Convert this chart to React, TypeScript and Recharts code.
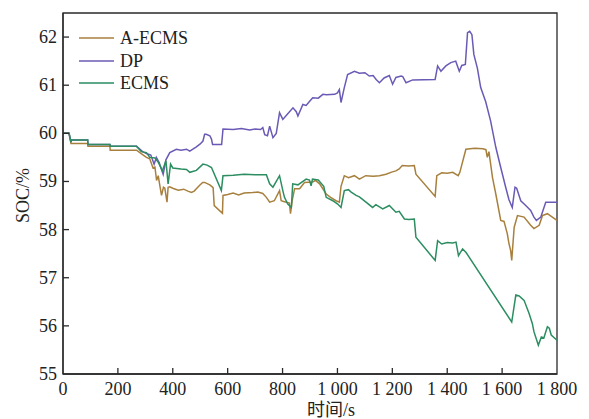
import { LineChart, Line, XAxis, YAxis, ReferenceArea } from 'recharts'

// time (s), SOC (%)
const aecmsPoints: [number, number][] = [
  [0, 60.0], [22, 60.0], [29, 59.79], [90, 59.79], [91, 59.73], [171, 59.73], [172, 59.65], [268, 59.65],
  [285, 59.58], [304, 59.5], [316, 59.47], [328, 59.28], [335, 59.3], [341, 59.02], [347, 59.12], [353, 58.91],
  [359, 58.71], [366, 58.88], [371, 58.86], [379, 58.57], [383, 58.88], [389, 58.89], [400, 58.86], [420, 58.82],
  [440, 58.84], [455, 58.8], [468, 58.77], [478, 58.8], [498, 58.92], [509, 58.98], [516, 58.98], [535, 58.93],
  [547, 58.87], [551, 58.5], [581, 58.34], [583, 58.71], [600, 58.73], [620, 58.76], [640, 58.72], [660, 58.76],
  [691, 58.77], [710, 58.78], [728, 58.75], [741, 58.67], [753, 58.57], [770, 58.6], [789, 58.81], [795, 58.6],
  [807, 58.58], [825, 58.55], [829, 58.33], [835, 58.6], [844, 58.85], [862, 58.85], [880, 58.98], [909, 58.99],
  [920, 59.02], [935, 58.95], [959, 58.74], [975, 58.67], [995, 58.6], [1007, 58.57], [1013, 58.9], [1025, 59.12],
  [1040, 59.08], [1062, 59.12], [1080, 59.05], [1103, 59.12], [1130, 59.11], [1153, 59.12], [1177, 59.15],
  [1200, 59.2], [1213, 59.22], [1225, 59.26], [1236, 59.33], [1260, 59.32], [1280, 59.33], [1286, 59.15],
  [1356, 58.69], [1362, 59.12], [1380, 59.18], [1400, 59.17], [1420, 59.19], [1440, 59.12], [1446, 59.19],
  [1468, 59.67], [1500, 59.69], [1530, 59.68], [1541, 59.66], [1546, 59.5], [1552, 59.62], [1565, 59.08],
  [1577, 58.74], [1595, 58.19], [1607, 58.17], [1619, 57.91], [1625, 57.71], [1631, 57.57], [1635, 57.36],
  [1644, 58.05], [1656, 58.29], [1680, 58.26], [1704, 58.09], [1716, 58.02], [1735, 58.09], [1747, 58.29],
  [1765, 58.33], [1783, 58.26], [1800, 58.19],
]

const dpPoints: [number, number][] = [
  [0, 60.0], [22, 60.0], [29, 59.82], [31, 59.86], [90, 59.86], [91, 59.77], [171, 59.77], [172, 59.73],
  [268, 59.73], [290, 59.62], [304, 59.58], [320, 59.55], [332, 59.36], [340, 59.5], [350, 59.4], [365, 59.15],
  [375, 59.45], [389, 59.6], [413, 59.67], [430, 59.65], [450, 59.67], [462, 59.63], [486, 59.72], [500, 59.78],
  [510, 59.84], [516, 59.98], [522, 59.98], [535, 59.95], [541, 59.88], [545, 59.77], [578, 59.77], [583, 60.09],
  [620, 60.08], [650, 60.1], [680, 60.07], [700, 60.09], [720, 60.08], [728, 60.12], [735, 59.97], [745, 59.95],
  [753, 60.15], [765, 59.91], [777, 60.0], [789, 60.43], [801, 60.29], [815, 60.38], [838, 60.53], [850, 60.45],
  [856, 60.36], [874, 60.6], [886, 60.58], [898, 60.66], [910, 60.74], [930, 60.73], [947, 60.81], [960, 60.8],
  [990, 60.81], [1000, 60.84], [1007, 60.91], [1013, 60.64], [1025, 60.95], [1037, 61.22], [1062, 61.29],
  [1080, 61.25], [1100, 61.26], [1116, 61.19], [1130, 61.2], [1141, 61.12], [1153, 61.05], [1170, 61.15],
  [1189, 61.2], [1201, 61.02], [1213, 61.16], [1232, 61.19], [1238, 61.18], [1250, 61.05], [1274, 61.11],
  [1356, 61.12], [1365, 61.4], [1377, 61.29], [1395, 61.4], [1413, 61.47], [1431, 61.5], [1444, 61.29],
  [1453, 61.41], [1466, 61.43], [1474, 62.09], [1482, 62.12], [1490, 62.05], [1497, 61.64], [1510, 61.35],
  [1522, 60.95], [1540, 60.66], [1558, 60.26], [1577, 59.71], [1595, 59.29], [1613, 58.88], [1625, 58.62],
  [1637, 58.46], [1647, 58.88], [1653, 58.86], [1668, 58.6], [1686, 58.5], [1704, 58.4], [1716, 58.26],
  [1725, 58.19], [1741, 58.26], [1759, 58.57], [1800, 58.57],
]

const ecmsPoints: [number, number][] = [
  [0, 60.0], [22, 60.0], [29, 59.82], [31, 59.86], [90, 59.86], [91, 59.77], [171, 59.77], [172, 59.73],
  [268, 59.73], [285, 59.62], [304, 59.6], [316, 59.5], [335, 59.49], [347, 59.4], [362, 59.22], [375, 59.43],
  [383, 58.95], [392, 59.36], [400, 59.28], [430, 59.26], [450, 59.25], [462, 59.19], [486, 59.23], [510, 59.36],
  [525, 59.34], [541, 59.29], [577, 58.81], [583, 59.12], [620, 59.13], [660, 59.15], [700, 59.14], [741, 59.14],
  [753, 58.95], [765, 58.88], [789, 59.12], [801, 58.81], [807, 58.67], [819, 58.53], [832, 58.46], [837, 58.95],
  [856, 58.93], [886, 59.05], [898, 59.03], [904, 58.91], [909, 59.05], [930, 59.03], [950, 58.9], [959, 58.67],
  [983, 58.6], [1001, 58.53], [1013, 58.46], [1025, 58.81], [1040, 58.83], [1050, 58.78], [1068, 58.71],
  [1080, 58.68], [1104, 58.57], [1128, 58.46], [1140, 58.52], [1165, 58.43], [1189, 58.5], [1213, 58.36],
  [1225, 58.38], [1244, 58.22], [1260, 58.21], [1280, 58.22], [1286, 57.84], [1356, 57.36], [1365, 57.77],
  [1380, 57.7], [1400, 57.73], [1420, 57.72], [1432, 57.74], [1441, 57.46], [1456, 57.6], [1468, 57.53],
  [1635, 56.08], [1650, 56.64], [1662, 56.62], [1680, 56.53], [1698, 56.26], [1710, 56.05], [1716, 55.88],
  [1732, 55.6], [1743, 55.77], [1752, 55.75], [1765, 55.98], [1772, 55.95], [1779, 55.81], [1800, 55.7],
]

const xTicks = [0, 200, 400, 600, 800, 1000, 1200, 1400, 1600, 1800]
const yTicks = [55, 56, 57, 58, 59, 60, 61, 62]

const series = [
  { name: 'A-ECMS', color: '#a8803e', points: aecmsPoints },
  { name: 'DP', color: '#6b5ab5', points: dpPoints },
  { name: 'ECMS', color: '#2b8d60', points: ecmsPoints },
]

const FONT = "'Liberation Serif', 'Times New Roman', serif"
const AXIS = '#2a2a2a'

const toRows = (pts: [number, number][]) => pts.map(([t, soc]) => ({ t, soc }))

const fmtX = (v: number) => (v >= 1000 ? `${Math.floor(v / 1000)} ${String(v % 1000).padStart(3, '0')}` : String(v))

function XTick({ x, y, payload }: any) {
  return (
    <g>
      {payload.value > 0 && payload.value < 1800 && <line x1={x} y1={y} x2={x} y2={y - 6} stroke={AXIS} strokeWidth={1.3} />}
      <text x={x} y={y + 21} textAnchor="middle" fontFamily={FONT} fontSize={18} fill="#222">
        {fmtX(payload.value)}
      </text>
    </g>
  )
}

function YTick({ x, y, payload }: any) {
  return (
    <g>
      {payload.value > 55 && <line x1={x} y1={y} x2={x + 6} y2={y} stroke={AXIS} strokeWidth={1.3} />}
      <text x={x - 6} y={y + 6} textAnchor="end" fontFamily={FONT} fontSize={18} fill="#222">
        {payload.value}
      </text>
    </g>
  )
}

function LegendBox() {
  return (
    <div style={{ position: 'absolute', left: 79, top: 27, fontFamily: FONT, fontSize: 18, color: '#222', lineHeight: 1 }}>
      {series.map((s) => (
        <div key={s.name} style={{ display: 'flex', alignItems: 'center', height: 22.5 }}>
          <svg width={35} height={4} style={{ marginRight: 6 }}>
            <line x1={0} y1={2} x2={35} y2={2} stroke={s.color} strokeWidth={1.6} />
          </svg>
          <span>{s.name}</span>
        </div>
      ))}
    </div>
  )
}

export default function App() {
  return (
    <div style={{ position: 'absolute', left: 0, top: 0, width: 589, height: 419, background: '#fff' }}>
      <LineChart width={589} height={419} margin={{ top: 13, right: 32, bottom: 0, left: 0 }}>
        <XAxis
          dataKey="t"
          type="number"
          domain={[0, 1800]}
          ticks={xTicks}
          height={45}
          tickSize={0}
          tickMargin={0}
          tickLine={false}
          tick={<XTick />}
          axisLine={{ stroke: AXIS, strokeWidth: 1.3 }}
          allowDataOverflow
          label={{
            content: ({ viewBox }: any) => (
              <text
                x={viewBox.x + viewBox.width / 2 + 21}
                y={viewBox.y + 42}
                textAnchor="middle"
                fontFamily={"'Liberation Serif', 'Noto Sans CJK SC', serif"}
                fontSize={18}
                fill="#222"
              >
                时间/s
              </text>
            ),
          }}
        />
        <YAxis
          type="number"
          domain={[55, 62.5]}
          ticks={yTicks}
          width={63}
          tickSize={0}
          tickMargin={0}
          tickLine={false}
          tick={<YTick />}
          axisLine={{ stroke: AXIS, strokeWidth: 1.3 }}
          allowDataOverflow
          label={{
            content: ({ viewBox }: any) => (
              <text
                x={22.5}
                y={viewBox.y + viewBox.height / 2 + 2}
                textAnchor="middle"
                dominantBaseline="central"
                transform={`rotate(-90 22.5 ${viewBox.y + viewBox.height / 2 + 2})`}
                fontFamily={FONT}
                fontSize={18}
                fill="#222"
              >
                SOC/%
              </text>
            ),
          }}
        />
        <ReferenceArea x1={0} x2={1800} y1={55} y2={62.5} fill="none" stroke={AXIS} strokeWidth={1.3} ifOverflow="visible" />
        {series.map((s) => (
          <Line
            key={s.name}
            name={s.name}
            data={toRows(s.points)}
            dataKey="soc"
            type="linear"
            stroke={s.color}
            strokeWidth={1.5}
            dot={false}
            activeDot={false}
            isAnimationActive={false}
          />
        ))}
      </LineChart>
      <LegendBox />
    </div>
  )
}
